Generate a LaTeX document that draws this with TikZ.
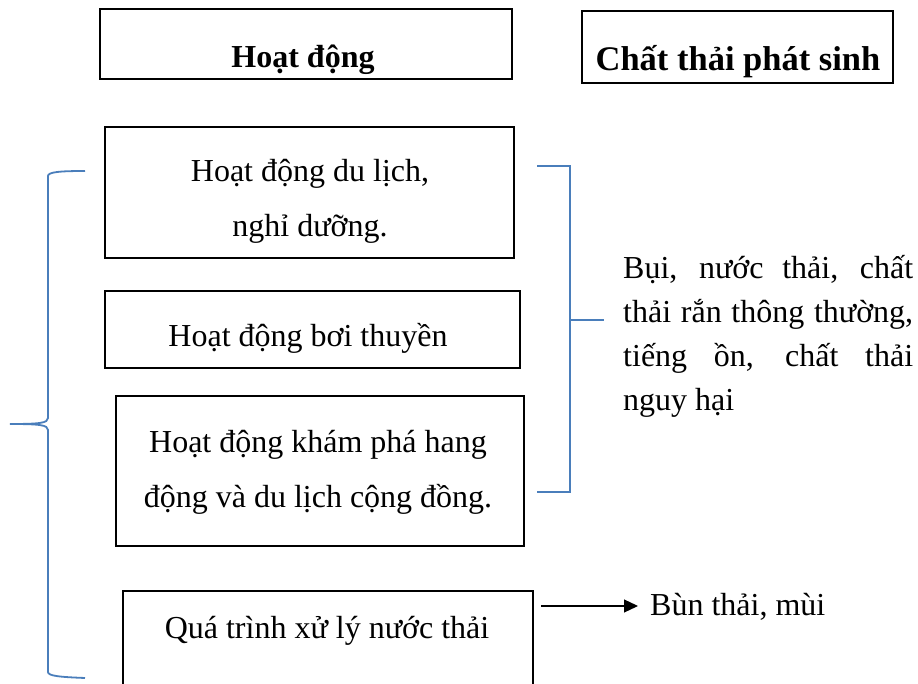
\documentclass[tikz,border=0pt]{standalone}
\usepackage{fontspec}
\setmainfont{Liberation Serif}
\usetikzlibrary{arrows.meta,positioning,calc}
\definecolor{braceblue}{RGB}{74,126,187}

\begin{document}
\begin{tikzpicture}[x=1pt,y=-1pt,
box/.style={draw, line width=2pt, anchor=north west, inner sep=0pt},
txt/.style={font=\fontsize{32}{55}\selectfont, align=center, inner sep=0pt, anchor=base},
head/.style={font=\fontsize{32}{40}\selectfont\bfseries, inner sep=0pt, anchor=base},
bluebrace/.style={draw=braceblue, line width=1.8pt},
line/.style={-{Triangle[length=14pt,width=13pt]}, line width=1.2pt}
]
\useasboundingbox (0,0) rectangle (918,684);
\clip (0,0) rectangle (918,684);

% headers
\node[box, minimum width=412pt, minimum height=70pt] (hdact) at (99,8) {};
\node[head] (hdacttxt) at (303,68) {Hoạt động};
\node[box, minimum width=311pt, minimum height=72pt] (hdwaste) at (581,10) {};
\node[head, font=\fontsize{34.5}{40}\selectfont\bfseries] (hdwastetxt) at (738,71) {Chất thải phát sinh};

% activities (base = last line)
\node[box, minimum width=409pt, minimum height=131pt] (tour) at (104,126) {};
\node[txt] (tourtxt) at (310,237) {Hoạt động du lịch,\\ nghỉ dưỡng.};
\node[box, minimum width=415pt, minimum height=77pt] (boat) at (104,290) {};
\node[txt] (boattxt) at (308,347) {Hoạt động bơi thuyền};
\node[box, minimum width=408pt, minimum height=150pt] (cave) at (115,395) {};
\node[txt] (cavetxt) at (318,507) {Hoạt động khám phá hang\\ động và du lịch cộng đồng.};
\node[box, minimum width=410pt, minimum height=120pt] (water) at (122,590) {};
\node[txt] (watertxt) at (327,638) {Quá trình xử lý nước thải};

% wastes
\node[font=\fontsize{32}{44}\selectfont, text width=290pt, align=justify,
      inner sep=0pt, anchor=north west] (waste) at (623,255)
  {Bụi, nước thải, chất thải rắn thông thường, tiếng ồn, chất thải nguy hại};
\node[txt, anchor=base west] (sludge) at (650,615) {Bùn thải, mùi};

% brace and bracket
\draw[bluebrace] (85,171) .. controls (60,171) and (48,172) .. (48,176)
  -- (48,418) .. controls (48,423) and (40,424) .. (10,424);
\draw[bluebrace] (10,424) .. controls (40,424) and (48,425) .. (48,430)
  -- (48,672) .. controls (48,676) and (60,677) .. (85,678);
\draw[bluebrace] (537,166) -- (570,166) -- (570,492) -- (537,492);
\draw[bluebrace] (570,320) -- (604,320);

\coordinate (arrfrom) at (541,606);
\draw[line] (arrfrom) -- ($(sludge.west |- arrfrom)+(-12,0)$);
\end{tikzpicture}
\end{document}
